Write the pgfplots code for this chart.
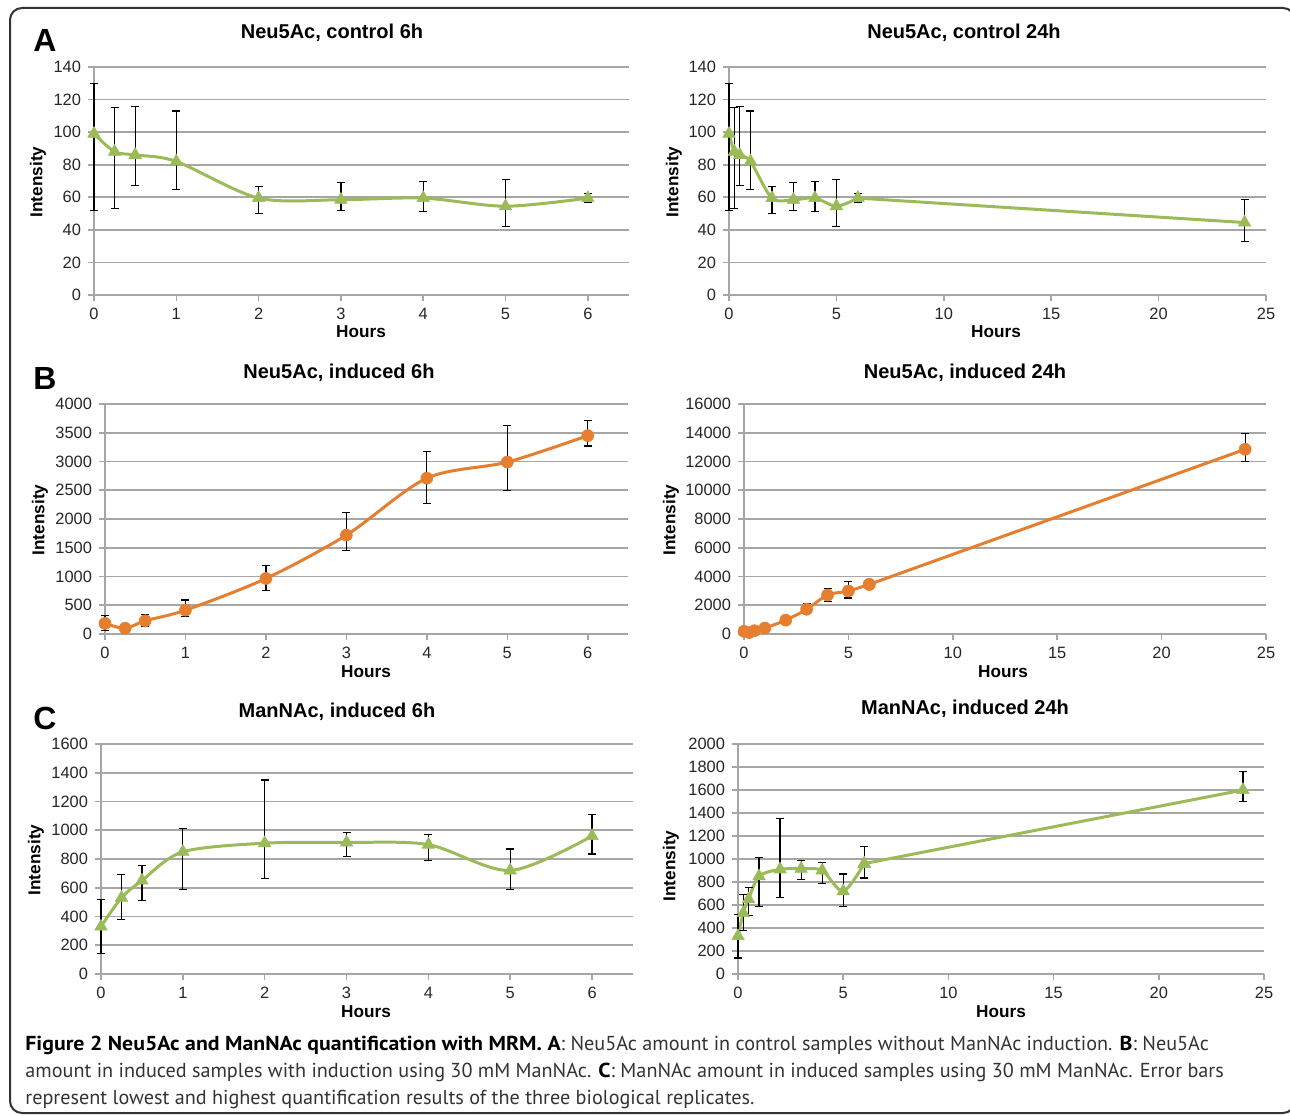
\documentclass[border=0pt]{standalone}
\usepackage{fontspec}
\setmainfont{Liberation Sans}
\newfontfamily\capfont{PT Sans}
\newfontfamily\capbold[FakeStretch=1.08]{PT Sans Bold}
\usepackage{pgfplots}
\usepackage{pgfplotstable}
\pgfplotsset{compat=1.18}

\definecolor{exgreen}{RGB}{155,187,89}
\definecolor{exorange}{RGB}{230,126,48}
\definecolor{gridgray}{RGB}{166,166,166}

% x = hours, y = mean intensity, lo/hi = lowest and highest replicate
\pgfplotstableread{
x    y     lo    hi
0    99    52    130
0.25 88    53    115
0.5  86    67    115.5
1    82    65    113
2    59.5  50    66.5
3    58.5  52    69
4    59.5  51.5  69.5
5    54.5  42    71
6    59.5  57    62.5
24   44.5  33    58.5
}\neuctl

\pgfplotstableread{
x    y     lo    hi
0    185   60    320
0.25 100   70    130
0.5  230   130   340
1    415   300   590
2    965   760   1190
3    1720  1450  2120
4    2710  2270  3170
5    2990  2500  3630
6    3450  3270  3720
24   12850 12000 13950
}\neuind

\pgfplotstableread{
x    y     lo    hi
0    330   140   520
0.25 530   380   690
0.5  650   510   755
1    850   590   1010
2    910   665   1350
3    915   820   985
4    900   790   970
5    720   590   870
6    960   835   1110
24   1600  1500  1760
}\manind

\pgfplotsset{
  panel/.style={
    scale only axis, anchor=south west,
    axis lines=left, axis line style={-, gridgray, line width=0.8pt},
    ymajorgrids, grid style={gridgray, line width=0.8pt},
    tick align=outside, major tick length=3pt,
    tick style={gridgray, line width=0.8pt},
    xmin=0, ymin=0, clip=false,
    tick label style={font=\fontsize{8.2}{9.8}\selectfont, text=black!85},
    /pgf/number format/assume math mode=true,
    /pgf/number format/1000 sep={},
    scaled y ticks=false,
  },
  short/.style={panel, xmax=6.5, xtick={0,...,6}},
  long/.style={panel, xmax=25, xtick={0,5,...,25}},
  errs/.style={
    error bars/y dir=both, error bars/y explicit,
    error bars/error bar style={black, line width=0.6pt, solid},
    error bars/error mark options={rotate=90, black, mark size=2pt, line width=0.6pt},
  },
  grn/.style={exgreen, line width=1.5pt,
    mark=triangle*, mark size=3.6pt, mark options={line width=0.3pt}, errs},
  org/.style={exorange, line width=1.5pt,
    mark=*, mark size=3pt, mark options={line width=0.3pt}, errs},
  sm/.style={smooth, tension=0.5, restrict x to domain=0:6},
  tail/.style={restrict x to domain=6:24},
  /pgfplots/table/lohi/.style={x=x, y=y,
    y error plus expr=\thisrow{hi}-\thisrow{y},
    y error minus expr=\thisrow{y}-\thisrow{lo}},
}

\newcommand{\ttl}[1]{\fontsize{10}{12}\selectfont\bfseries #1}
\newcommand{\lbl}[1]{\fontsize{8.6}{10}\selectfont\bfseries #1}
\newcommand{\cb}[1]{\textcolor{black}{\capbold #1}}

\begin{document}
\begin{tikzpicture}[x=0.5pt, y=0.5pt]
\useasboundingbox (0,0) rectangle (1290,1115);
\draw[black!80, line width=1pt, rounded corners=6pt] (10,2) rectangle (1295,1107);

% ---- A ----
\begin{axis}[short, at={(47pt,410pt)}, width=267.5pt, height=114pt,
  ymax=140, ytick={0,20,...,140}]
\addplot[grn, sm] table[lohi] {\neuctl};
\end{axis}
\begin{axis}[long, at={(364.5pt,410pt)}, width=268.5pt, height=114pt,
  ymax=140, ytick={0,20,...,140}]
\addplot[grn, tail] table[lohi] {\neuctl};
\addplot[grn, sm] table[lohi] {\neuctl};
\end{axis}

% ---- B ----
\begin{axis}[short, at={(52.5pt,240.5pt)}, width=261.5pt, height=115pt,
  ymax=4000, ytick={0,500,...,4000}]
\addplot[org, sm] table[lohi] {\neuind};
\end{axis}
\begin{axis}[long, at={(372pt,240.5pt)}, width=261pt, height=115pt,
  ymax=16000, ytick={0,2000,...,16000}]
\addplot[org, tail] table[lohi] {\neuind};
\addplot[org, sm] table[lohi] {\neuind};
\end{axis}

% ---- C ----
\begin{axis}[short, at={(50.5pt,70.5pt)}, width=266pt, height=115pt,
  ymax=1600, ytick={0,200,...,1600}]
\addplot[grn, sm] table[lohi] {\manind};
\end{axis}
\begin{axis}[long, at={(369pt,70.5pt)}, width=263pt, height=115pt,
  ymax=2000, ytick={0,200,...,2000}]
\addplot[grn, tail] table[lohi] {\manind};
\addplot[grn, sm] table[lohi] {\manind};
\end{axis}

% titles
\node at (332,1082) {\ttl{Neu5Ac, control 6h}};
\node at (964,1082) {\ttl{Neu5Ac, control 24h}};
\node at (339,742) {\ttl{Neu5Ac, induced 6h}};
\node at (965,742) {\ttl{Neu5Ac, induced 24h}};
\node at (337,403) {\ttl{ManNAc, induced 6h}};
\node at (965,406) {\ttl{ManNAc, induced 24h}};

% axis labels
\foreach \x/\y in {361/783, 996/783, 366/443, 1003/443, 366/103, 1001/103}
  \node at (\x,\y) {\lbl{Hours}};
\foreach \x/\y in {38/933, 674/933, 40/595, 671/595, 36/255, 671/249}
  \node[rotate=90] at (\x,\y) {\lbl{Intensity}};

% panel letters
\node at (45,1075) {\fontsize{16}{18}\selectfont\bfseries A};
\node at (45,737) {\fontsize{16}{18}\selectfont\bfseries B};
\node at (45,397) {\fontsize{16}{18}\selectfont\bfseries C};

% caption
\begin{scope}[every node/.style={anchor=base west, inner sep=0pt, text=black!80,
    font=\capfont\fontsize{10.1}{12}\selectfont}]
\node at (25,65) {\cb{Figure 2 Neu5Ac and ManNAc quantification with MRM. A}: Neu5Ac amount in control samples without ManNAc induction. \cb{B}: Neu5Ac};
\node at (25,38) {amount in induced samples with induction using 30 mM ManNAc. \cb{C}: ManNAc amount in induced samples using 30 mM ManNAc. Error bars};
\node at (25,11) {represent lowest and highest quantification results of the three biological replicates.};
\end{scope}
\end{tikzpicture}
\end{document}
